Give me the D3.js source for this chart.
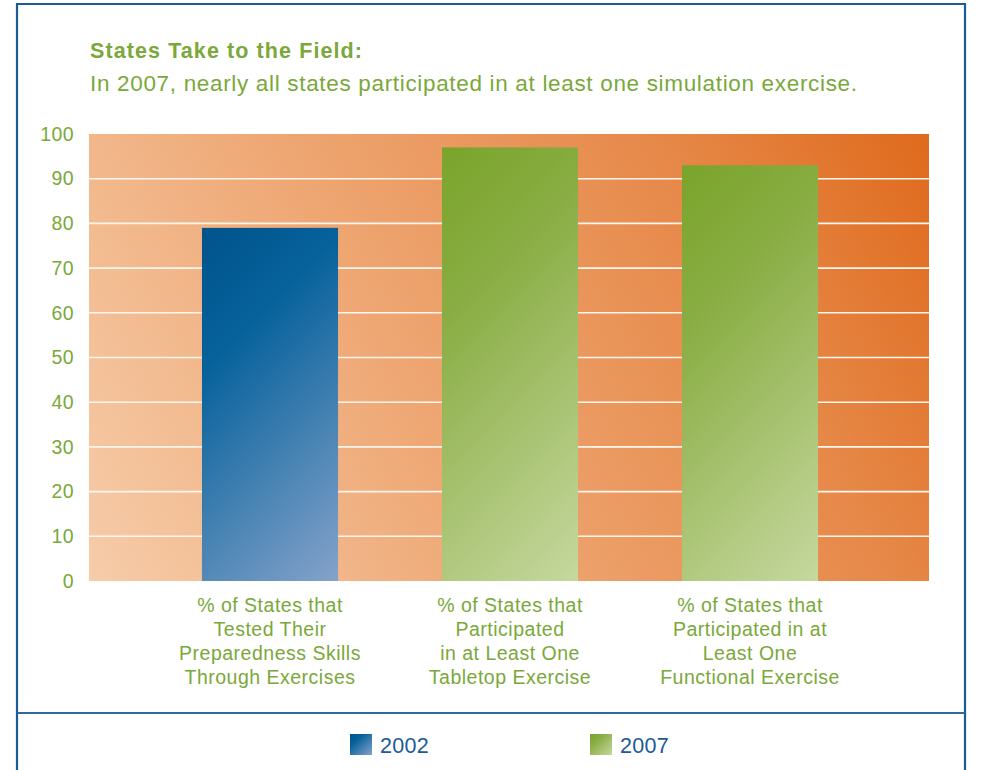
<!DOCTYPE html>
<html>
<head>
<meta charset="utf-8">
<script src="https://cdn.jsdelivr.net/npm/d3@7"></script>
<style>
  html, body { margin: 0; padding: 0; background: #fff; }
  svg { display: block; font-family: "Liberation Sans", Arial, Helvetica, sans-serif; }
</style>
</head>
<body>
<svg id="chart" width="981" height="770"></svg>
<script>
// Chart data
const categories = [
  ["% of States that", "Tested Their", "Preparedness Skills", "Through Exercises"],
  ["% of States that", "Participated", "in at Least One", "Tabletop Exercise"],
  ["% of States that", "Participated in at", "Least One", "Functional Exercise"]
];
const categoryKeys = ["tested", "tabletop", "functional"];
const values = [79, 97, 93];
const barYears = ["2002", "2007", "2007"];
const legendYears = ["2002", "2007"];
const yTicks = [0, 10, 20, 30, 40, 50, 60, 70, 80, 90, 100];

const svg = d3.select("#chart");
const green = "#7aa83a";
const navy = "#1b5a93";
const ramps = {
  "2002": [["0%", "#00538b"], ["30%", "#07629c"], ["100%", "#85a3ca"]],
  "2007": [["0%", "#7aa42b"], ["30%", "#89ad43"], ["100%", "#c6d89f"]]
};

const defs = svg.append("defs");

// Plot background gradient: pale peach bottom-left to deep orange top-right
const plot = { left: 89, right: 929, top: 134, bottom: 581 };
const bg = defs.append("linearGradient").attr("id", "bgGrad")
  .attr("gradientUnits", "userSpaceOnUse")
  .attr("x1", plot.left).attr("y1", plot.bottom).attr("x2", plot.right).attr("y2", plot.top);
[["0%", "#f6cca9"], ["40%", "#eea672"], ["75%", "#e68848"], ["100%", "#df6a1c"]]
  .forEach(([o, c]) => bg.append("stop").attr("offset", o).attr("stop-color", c));

// Legend swatch gradients
Object.entries(ramps).forEach(([k, stops]) => {
  const g = defs.append("linearGradient").attr("id", "sw" + k)
    .attr("x1", "0%").attr("y1", "0%").attr("x2", "100%").attr("y2", "100%");
  stops.forEach(([o, c]) => g.append("stop").attr("offset", o).attr("stop-color", c));
});

// Frame
svg.append("path")
  .attr("d", "M17,770 L17,4 L965,4 L965,770")
  .attr("fill", "none").attr("stroke", navy).attr("stroke-width", 2.2);
svg.append("line").attr("x1", 17).attr("x2", 965).attr("y1", 713).attr("y2", 713)
  .attr("stroke", "#2e6aa0").attr("stroke-width", 2);

// Title
svg.append("text").attr("x", 90).attr("y", 58)
  .attr("fill", green).attr("font-size", 21.5).attr("font-weight", "bold")
  .attr("textLength", 272).attr("lengthAdjust", "spacing")
  .text("States Take to the Field:");
svg.append("text").attr("x", 90).attr("y", 91)
  .attr("fill", green).attr("font-size", 22.5)
  .attr("textLength", 767).attr("lengthAdjust", "spacing")
  .text("In 2007, nearly all states participated in at least one simulation exercise.");

// Scales
const y = d3.scaleLinear().domain([0, 100]).range([plot.bottom, plot.top]);
const x = d3.scaleBand().domain(categoryKeys).range([150, 870])
  .paddingInner(0.433).paddingOuter(0.2165);

// Plot background
svg.append("rect")
  .attr("x", plot.left).attr("y", plot.top)
  .attr("width", plot.right - plot.left).attr("height", plot.bottom - plot.top)
  .attr("fill", "url(#bgGrad)");

// Gridlines
svg.append("g").selectAll("line")
  .data(yTicks.filter(t => t > 0 && t < 100))
  .join("line")
  .attr("x1", plot.left).attr("x2", plot.right)
  .attr("y1", d => y(d)).attr("y2", d => y(d))
  .attr("stroke", "#fff6ee").attr("stroke-width", 1.6);

// Y axis labels
const yAxis = d3.axisLeft(y).tickValues(yTicks).tickSize(0).tickPadding(0);
const yg = svg.append("g").attr("transform", "translate(74,0)").call(yAxis);
yg.select(".domain").remove();
yg.selectAll("text")
  .attr("fill", green).attr("font-size", 19.5).attr("letter-spacing", 0.4)
  .attr("font-family", "\"Liberation Sans\", Arial, sans-serif");

// Bars, each with a 45° gradient in its own coordinates
values.forEach((v, i) => {
  const bx = x(categoryKeys[i]), bw = x.bandwidth();
  const top = y(v), h = y(0) - y(v);
  const reach = (bw + h) / 2;
  const g = defs.append("linearGradient").attr("id", "bar" + i)
    .attr("gradientUnits", "userSpaceOnUse")
    .attr("x1", bx).attr("y1", top).attr("x2", bx + reach).attr("y2", top + reach);
  ramps[barYears[i]].forEach(([o, c]) => g.append("stop").attr("offset", o).attr("stop-color", c));
});
svg.append("g").selectAll("rect")
  .data(values)
  .join("rect")
  .attr("x", (d, i) => x(categoryKeys[i]))
  .attr("width", x.bandwidth())
  .attr("y", d => y(d))
  .attr("height", d => y(0) - y(d))
  .attr("fill", (d, i) => `url(#bar${i})`);

// Category labels
const cl = svg.append("g").selectAll("text")
  .data(categories)
  .join("text")
  .attr("text-anchor", "middle")
  .attr("fill", green).attr("font-size", 19.5).attr("letter-spacing", 0.5)
  .attr("transform", (d, i) => `translate(${x(categoryKeys[i]) + x.bandwidth() / 2},612)`);
cl.selectAll("tspan")
  .data(d => d)
  .join("tspan")
  .attr("x", 0).attr("y", (d, i) => i * 24)
  .text(d => d);

// Legend
const legendX = d3.scalePoint().domain(legendYears).range([350, 590]);
const lg = svg.append("g").selectAll("g")
  .data(legendYears)
  .join("g")
  .attr("transform", d => `translate(${legendX(d)},734)`);
lg.append("rect").attr("width", 22).attr("height", 21).attr("fill", d => `url(#sw${d})`);
lg.append("text").attr("x", 30).attr("y", 18.5)
  .attr("fill", navy).attr("font-size", 21.5).attr("letter-spacing", 0.3).text(d => d);
</script>
</body>
</html>
